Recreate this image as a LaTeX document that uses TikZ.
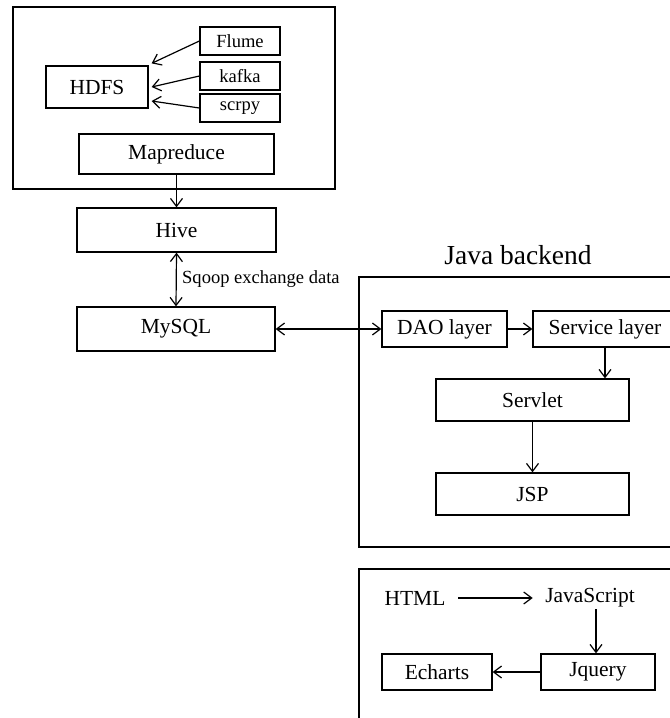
\documentclass[tikz,border=0pt]{standalone}
\usepackage{fontspec}
\setmainfont{Liberation Serif}
\usetikzlibrary{arrows.meta,fit,calc}
\begin{document}
\begin{tikzpicture}[x=0.75pt,y=-0.75pt,
  bigfont/.style={font=\fontsize{16.1}{19}\selectfont},
  smallfont/.style={font=\fontsize{13.9}{17}\selectfont},
  box/.style={draw,line width=0.95pt,inner sep=0pt,label={[bigfont]center:#1}},
  smallbox/.style={draw,line width=0.95pt,inner sep=0pt,label={[smallfont]center:#1}},
  frame/.style={draw,line width=0.95pt,inner sep=0pt},
  plain/.style={inner sep=1pt,bigfont},
  arr/.style={line width=0.9pt,-{Straight Barb[length=6pt,width=9pt,line width=0.9pt]}},
  darr/.style={line width=0.9pt,{Straight Barb[length=6pt,width=9pt,line width=0.9pt]}-{Straight Barb[length=6pt,width=9pt,line width=0.9pt]}}]
\useasboundingbox (0,0) rectangle (670,718);
\clip (0,0) rectangle (670,718);

% data collection and storage
\node[frame,fit={(13,7)(335,189)}] (bigdata) {};
\node[box=HDFS,fit={(46,66)(148,108)}] (hdfs) {};
\node[smallbox=Flume,fit={(200,27)(280,55)}] (flume) {};
\node[smallbox=kafka,fit={(200,62)(280,90)}] (kafka) {};
\node[smallbox=scrpy,fit={(200,94)(280,122)}] (scrpy) {};
\node[box=Mapreduce,fit={(79,134)(274,174)}] (mapreduce) {};
\node[box=Hive,fit={(77,208)(276,252)}] (hive) {};
\node[box=MySQL,fit={(77,307)(275,351)}] (mysql) {};

\draw[arr] (flume.west) -- ($(hdfs.north east)+(3,-2)$);
\draw[arr] (kafka.west) -- ($(hdfs.east)+(3,0)$);
\draw[arr] (scrpy.west) -- ($(hdfs.east)+(3,14)$);
\draw[arr] (mapreduce.south) -- (hive.north);
\draw[darr] (hive.south) -- node[right,inner sep=4pt,smallfont] {Sqoop exchange data} (mysql.north);

% Java backend
\node[plain,font=\fontsize{20.6}{24}\selectfont] (javatitle) at (518,255) {Java backend};
\node[frame,fit={(359,277)(700,547)}] (java) {};
\node[box=DAO layer,fit={(382,311)(507,347)}] (dao) {};
\node[box=Service layer,fit={(533,311)(677,347)}] (service) {};
\node[box=Servlet,fit={(436,379)(629,421)}] (servlet) {};
\node[box=JSP,fit={(436,473)(629,515)}] (jsp) {};

\draw[darr] (mysql.east) -- (dao.west);
\draw[arr] (dao.east) -- (service.west);
\draw[arr] (service.south) -- (service.south |- servlet.north);
\draw[arr] (servlet.south) -- (jsp.north);

% front end
\node[frame,fit={(359,569)(700,740)}] (front) {};
\node[plain] (html) at (415,598) {HTML};
\node[plain] (js) at (590,598) {JavaScript};
\node[box=Echarts,fit={(382,654)(492,690)}] (echarts) {};
\node[box=Jquery,fit={(541,654)(655,690)}] (jquery) {};
\coordinate (jqtop) at ($(jquery.north)+(-2,0)$);

\draw[arr] ($(html.east)+(11,0)$) -- ($(js.west)+(-11,0)$);
\draw[arr] (jqtop |- js.south) -- (jqtop);
\draw[arr] (jquery.west) -- (echarts.east);
\end{tikzpicture}
\end{document}
